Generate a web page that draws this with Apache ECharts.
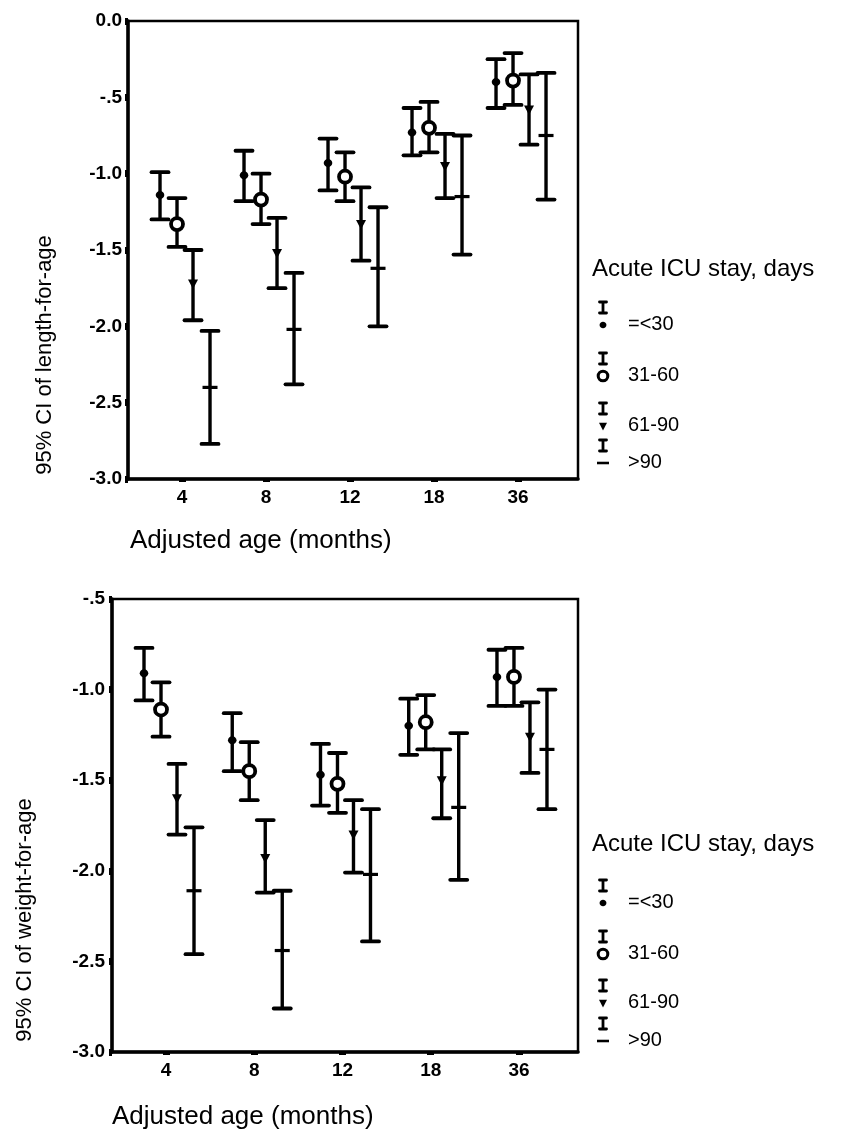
<!DOCTYPE html>
<html>
<head>
<meta charset="utf-8">
<script src="https://cdn.jsdelivr.net/npm/echarts@6/dist/echarts.min.js"></script>
<style>
html,body{margin:0;padding:0;background:#fff;}
#c{width:844px;height:1133px;}
</style>
</head>
<body>
<div id="c"></div>
<script>
// ---- categories / labels ----
const ageCategories = ['4', '8', '12', '18', '36'];
const seriesNames = ['=<30', '31-60', '61-90', '>90'];
const legendTitle = 'Acute ICU stay, days';
const xTitle = 'Adjusted age (months)';
const yTitleTop = '95% CI of length-for-age';
const yTitleBottom = '95% CI of weight-for-age';
const yTickTop = ['-3.0', '-2.5', '-2.0', '-1.5', '-1.0', '-.5', '0.0'];
const yTickBottom = ['-3.0', '-2.5', '-2.0', '-1.5', '-1.0', '-.5'];

// ---- length-for-age (mean, lower, upper) ----
const lenMean30 = [-1.14, -1.01, -0.93, -0.73, -0.40];
const lenLow30  = [-1.30, -1.18, -1.11, -0.88, -0.57];
const lenHigh30 = [-0.99, -0.85, -0.77, -0.57, -0.25];
const lenMean60 = [-1.33, -1.17, -1.02, -0.70, -0.39];
const lenLow60  = [-1.48, -1.33, -1.18, -0.86, -0.55];
const lenHigh60 = [-1.16, -1.00, -0.86, -0.53, -0.21];
const lenMean90 = [-1.72, -1.52, -1.33, -0.95, -0.58];
const lenLow90  = [-1.96, -1.75, -1.57, -1.16, -0.81];
const lenHigh90 = [-1.50, -1.29, -1.09, -0.74, -0.35];
const lenMeanGt = [-2.40, -2.02, -1.62, -1.15, -0.75];
const lenLowGt  = [-2.77, -2.38, -2.00, -1.53, -1.17];
const lenHighGt = [-2.03, -1.65, -1.22, -0.75, -0.34];

// ---- weight-for-age (mean, lower, upper) ----
const wtMean30 = [-0.91, -1.28, -1.47, -1.20, -0.93];
const wtLow30  = [-1.06, -1.45, -1.64, -1.36, -1.09];
const wtHigh30 = [-0.77, -1.13, -1.30, -1.05, -0.78];
const wtMean60 = [-1.11, -1.45, -1.52, -1.18, -0.93];
const wtLow60  = [-1.26, -1.61, -1.68, -1.33, -1.09];
const wtHigh60 = [-0.96, -1.29, -1.35, -1.03, -0.77];
const wtMean90 = [-1.60, -1.93, -1.80, -1.50, -1.26];
const wtLow90  = [-1.80, -2.12, -2.01, -1.71, -1.46];
const wtHigh90 = [-1.41, -1.72, -1.61, -1.33, -1.07];
const wtMeanGt = [-2.11, -2.44, -2.02, -1.65, -1.33];
const wtLowGt  = [-2.46, -2.76, -2.39, -2.05, -1.66];
const wtHighGt = [-1.76, -2.11, -1.66, -1.24, -1.00];

const lenSets = [[lenMean30, lenLow30, lenHigh30], [lenMean60, lenLow60, lenHigh60],
                 [lenMean90, lenLow90, lenHigh90], [lenMeanGt, lenLowGt, lenHighGt]];
const wtSets = [[wtMean30, wtLow30, wtHigh30], [wtMean60, wtLow60, wtHigh60],
                [wtMean90, wtLow90, wtHigh90], [wtMeanGt, wtLowGt, wtHighGt]];

// ---- styling ----
const FONT = '"Liberation Sans", Arial, Helvetica, sans-serif';
const dodgePx = [-22, -5, 11, 28];
const BLACK = '#000';

function markerEl(kind, cx, cy, s) {
  if (kind === 0) {
    return { type: 'ellipse', shape: { cx: cx, cy: cy, rx: 4.3 * s, ry: 4 * s }, style: { fill: BLACK } };
  }
  if (kind === 1) {
    return { type: 'circle', shape: { cx: cx, cy: cy, r: 6 * s }, style: { fill: '#fff', stroke: BLACK, lineWidth: 3.8 * s } };
  }
  if (kind === 2) {
    return { type: 'polygon', shape: { points: [[cx - 5 * s, cy - 4 * s], [cx + 5 * s, cy - 4 * s], [cx, cy + 5.5 * s]] }, style: { fill: BLACK } };
  }
  return { type: 'line', shape: { x1: cx - 7.5 * s, y1: cy, x2: cx + 7.5 * s, y2: cy }, style: { stroke: BLACK, lineWidth: 3.2 * s } };
}

function errBar(x, yTop, yBot, capHalf, lw, capLw) {
  return [
    { type: 'line', shape: { x1: x, y1: yTop, x2: x, y2: yBot }, style: { stroke: BLACK, lineWidth: lw } },
    { type: 'line', shape: { x1: x - capHalf, y1: yTop, x2: x + capHalf, y2: yTop }, style: { stroke: BLACK, lineWidth: capLw, lineCap: 'round' } },
    { type: 'line', shape: { x1: x - capHalf, y1: yBot, x2: x + capHalf, y2: yBot }, style: { stroke: BLACK, lineWidth: capLw, lineCap: 'round' } }
  ];
}

function makeSeries(sets, gridIdx) {
  return sets.map(function (set, k) {
    const data = ageCategories.map(function (_, i) { return [i, set[0][i], set[1][i], set[2][i]]; });
    return {
      type: 'custom',
      name: seriesNames[k],
      xAxisIndex: gridIdx, yAxisIndex: gridIdx,
      encode: { x: 0, y: [1, 2, 3] },
      data: data,
      renderItem: function (params, api) {
        const i = api.value(0);
        const pm = api.coord([i, api.value(1)]);
        const pl = api.coord([i, api.value(2)]);
        const ph = api.coord([i, api.value(3)]);
        const x = pm[0] + dodgePx[k];
        const children = errBar(x, ph[1], pl[1], 8.5, 3.4, 3.8);
        children.push(markerEl(k, x, pm[1], 1));
        return { type: 'group', children: children };
      }
    };
  });
}

function yLabelFn(labels, minV) {
  return function (v) {
    const idx = Math.round((v - minV) / 0.5);
    return labels[idx] !== undefined ? labels[idx] : '';
  };
}

const axisLabelStyle = { color: BLACK, fontFamily: FONT, fontSize: 19, fontWeight: 'bold' };

function xAxisCfg(gridIdx, minV, maxV) {
  return {
    type: 'value', gridIndex: gridIdx, min: minV, max: maxV,
    axisLine: { show: true, onZero: false, lineStyle: { color: BLACK, width: 3.5 } },
    axisTick: { show: true, customValues: [0, 1, 2, 3, 4], length: 3, lineStyle: { color: BLACK, width: 7 } },
    axisLabel: Object.assign({ customValues: [0, 1, 2, 3, 4], margin: 9, formatter: function (v) { return ageCategories[Math.round(v)]; } }, axisLabelStyle),
    splitLine: { show: false }
  };
}

function yAxisCfg(gridIdx, minV, maxV, labels, margin) {
  return {
    type: 'value', gridIndex: gridIdx, min: minV, max: maxV, interval: 0.5,
    axisLine: { show: true, onZero: false, lineStyle: { color: BLACK, width: 3.5 } },
    axisTick: { show: true, length: 3, lineStyle: { color: BLACK, width: 7 } },
    axisLabel: Object.assign({ margin: margin, formatter: yLabelFn(labels, minV) }, axisLabelStyle),
    splitLine: { show: false }
  };
}

// legend graphics
function legendGraphic(titleY, itemYs) {
  const els = [];
  els.push({ type: 'text', x: 592, y: titleY, style: { text: legendTitle, font: '24px ' + FONT, fill: BLACK, align: 'left', verticalAlign: 'middle' } });
  seriesNames.forEach(function (name, k) {
    const ty = itemYs[k];
    const sx = 603;
    errBar(sx, ty - 22, ty - 11, 3.5, 2.8, 2.8).forEach(function (e) { els.push(e); });
    els.push(markerEl(k, sx, ty + 1, 0.8));
    els.push({ type: 'text', x: 628, y: ty, style: { text: name, font: '20px ' + FONT, fill: BLACK, align: 'left', verticalAlign: 'middle' } });
  });
  return els;
}

const graphics = [].concat(
  [
    { type: 'text', x: 45, y: 355, rotation: Math.PI / 2, style: { text: yTitleTop, font: '22px ' + FONT, fill: BLACK, align: 'center', verticalAlign: 'middle' } },
    { type: 'text', x: 25, y: 920, rotation: Math.PI / 2, style: { text: yTitleBottom, font: '22px ' + FONT, fill: BLACK, align: 'center', verticalAlign: 'middle' } },
    { type: 'text', x: 130, y: 541, style: { text: xTitle, font: '26px ' + FONT, fill: BLACK, align: 'left', verticalAlign: 'middle' } },
    { type: 'text', x: 112, y: 1117, style: { text: xTitle, font: '26px ' + FONT, fill: BLACK, align: 'left', verticalAlign: 'middle' } }
  ],
  legendGraphic(269, [324, 375, 425, 462]),
  legendGraphic(844, [902, 953, 1002, 1040])
);

const option = {
  backgroundColor: '#fff',
  animation: false,
  grid: [
    { left: 128, top: 21, width: 450, height: 458, show: true, borderColor: BLACK, borderWidth: 2.5, backgroundColor: 'transparent' },
    { left: 112, top: 599, width: 466, height: 453, show: true, borderColor: BLACK, borderWidth: 2.5, backgroundColor: 'transparent' }
  ],
  xAxis: [xAxisCfg(0, -0.643, 4.714), xAxisCfg(1, -0.612, 4.669)],
  yAxis: [yAxisCfg(0, -3, 0, yTickTop, 6), yAxisCfg(1, -3, -0.5, yTickBottom, 7)],
  series: makeSeries(lenSets, 0).concat(makeSeries(wtSets, 1)),
  graphic: graphics
};

const chart = echarts.init(document.getElementById('c'), null, { renderer: 'canvas' });
chart.setOption(option);
</script>
</body>
</html>
